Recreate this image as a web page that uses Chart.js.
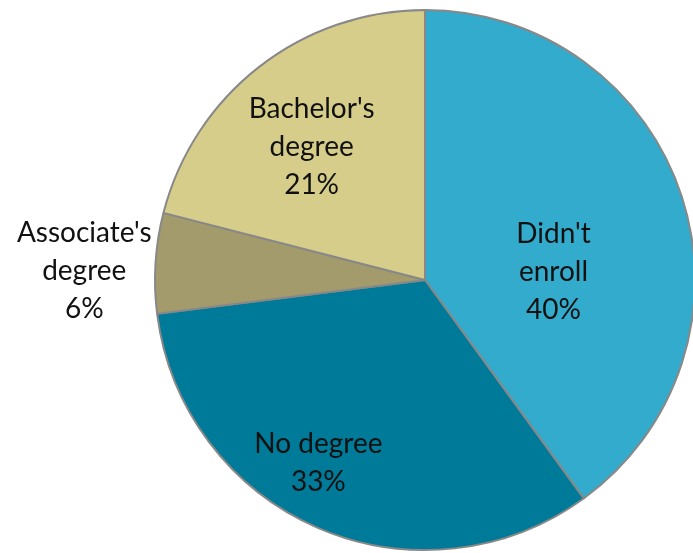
<!DOCTYPE html>
<html>
<head>
<meta charset="utf-8">
<script src="https://cdn.jsdelivr.net/npm/chart.js@4/dist/chart.umd.min.js"></script>
<style>
    html, body { margin: 0; padding: 0; background: #ffffff; overflow: hidden; }
    #wrap { position: absolute; left: 0; top: 0; width: 700px; height: 553px; }
</style>
</head>
<body>
<div id="wrap"><canvas id="pieChart" width="700" height="553"></canvas></div>
<script>
// 카테고리 (줄바꿈된 라벨)
const categories = [["Didn't", "enroll"], ["No degree"], ["Associate's", "degree"], ["Bachelor's", "degree"]];
const shares = [40, 33, 6, 21];
const sliceColors = ['#33abcc', '#007a99', '#a39b6c', '#d6cd8a'];

// 라벨 위치: 원 중심 기준, 반지름 단위 (첫 줄 기준선)
const labelAnchors = [[0.476, -0.137], [-0.395, 0.642], [-1.262, -0.14], [-0.42, -0.6]];

const sliceLabels = {
    id: 'sliceLabels',
    afterDatasetsDraw(chart) {
        const ctx = chart.ctx;
        const arcs = chart.getDatasetMeta(0).data;
        if (!arcs.length) return;
        const cx = arcs[0].x, cy = arcs[0].y, r = arcs[0].outerRadius;
        ctx.save();
        ctx.font = '28px Lato, "Open Sans", sans-serif';
        ctx.fillStyle = '#111111';
        ctx.textAlign = 'center';
        ctx.textBaseline = 'alphabetic';
        categories.forEach(function(lines, i) {
            const x = cx + labelAnchors[i][0] * r;
            let y = cy + labelAnchors[i][1] * r;
            lines.concat([shares[i] + '%']).forEach(function(line) {
                ctx.fillText(line, x, y);
                y += 38;
            });
        });
        ctx.restore();
    }
};

new Chart(document.getElementById('pieChart'), {
    type: 'pie',
    data: {
        labels: categories,
        datasets: [{
            data: shares,
            backgroundColor: sliceColors,
            borderColor: '#888888',
            borderWidth: 2,
            hoverOffset: 0
        }]
    },
    options: {
        responsive: false,
        animation: false,
        layout: {
            padding: { left: 154, right: 4, top: 9, bottom: 2 }
        },
        plugins: {
            legend: { display: false },
            tooltip: { enabled: false }
        }
    },
    plugins: [sliceLabels]
});
</script>
</body>
</html>
